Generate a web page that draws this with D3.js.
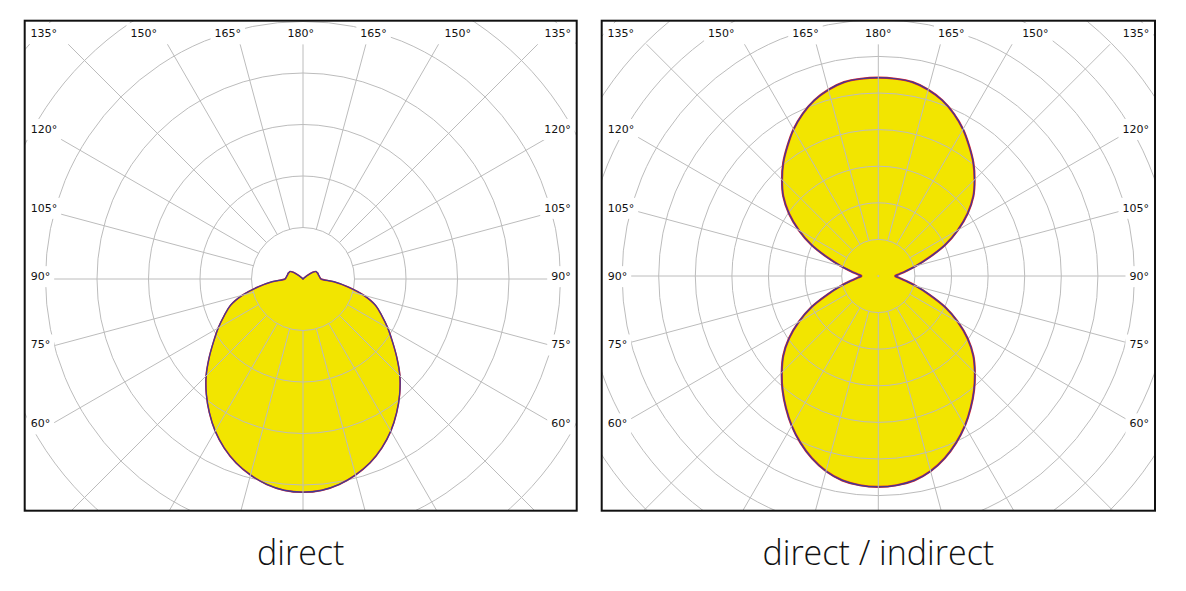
<!DOCTYPE html>
<html lang="en">
<head>
  <meta charset="UTF-8">
  <title>Polar light distribution: direct and direct/indirect</title>
  <script src="https://d3js.org/d3.v7.min.js"></script>
  <style>
    body {
      margin: 0;
      background-color: #ffffff;
    }

    .grid {
      fill: none;
      stroke: #bcbcbc;
      stroke-width: 1px;
    }

    .tick-label {
      font-family: "DejaVu Sans", Verdana, sans-serif;
      font-size: 11px;
      fill: #111;
    }

    .title {
      font-family: "Open Sans", "Noto Sans", sans-serif;
      font-weight: 300;
      font-size: 34px;
      fill: #111;
    }
  </style>
</head>
<body>

<div id="chart"></div>

<script>
  const width = 1186;
  const height = 591;

  // angles measured from nadir (0 = straight down, 180 = straight up), one half of the curve
  const gammaAngles = d3.range(0, 181, 5);

  // luminous intensity, cd/klm (ring step = 100)
  const directValues = [
    414, 412, 405, 394, 380, 362, 341, 317, 292, 266,
    238, 212, 190, 169, 150, 122, 89, 60, 35, 33,
    32, 31, 31, 30, 29, 23, 10, 2, 0, 0,
    0, 0, 0, 0, 0, 0, 0
  ];

  const directIndirectValues = [
    576, 574, 567, 552, 530, 503, 473, 440, 407, 373,
    339, 298, 251, 202, 148, 107, 76, 57, 46, 57,
    76, 107, 148, 202, 251, 298, 339, 372, 404, 433,
    463, 489, 511, 527, 538, 541, 542
  ];

  const topLabels = ["135°", "150°", "165°", "180°", "165°", "150°", "135°"];
  const topLabelAngles = [-45, -30, -15, 0, 15, 30, 45];     // from zenith
  const sideLabels = ["120°", "105°", "90°", "75°", "60°"];
  const sideLabelAngles = [30, 15, 0, -15, -30];              // elevation above horizontal

  const panels = [
    { title: "direct", values: directValues,
      box: { x: 24.7, y: 20.7, w: 552, h: 490 }, cx: 303, cy: 279, step: 51.5 },
    { title: "direct / indirect", values: directIndirectValues,
      box: { x: 601.7, y: 20.7, w: 553.3, h: 490 }, cx: 878.3, cy: 276, step: 36.6 }
  ];

  const svg = d3.select("#chart")
    .append("svg")
    .attr("width", width)
    .attr("height", height);

  panels.forEach((p, i) => {
    const b = p.box;
    const r = d3.scaleLinear().domain([0, 100]).range([0, p.step]);

    const defs = svg.append("defs");
    defs.append("clipPath").attr("id", "box" + i)
      .append("rect").attr("x", b.x).attr("y", b.y).attr("width", b.w).attr("height", b.h);
    defs.append("clipPath").attr("id", "inset" + i)
      .append("rect").attr("x", b.x + 26).attr("y", b.y + 23.6)
      .attr("width", b.w - 52).attr("height", b.h - 23.6);

    const g = svg.append("g").attr("clip-path", `url(#box${i})`);
    const polar = g.append("g").attr("transform", `translate(${p.cx},${p.cy})`);

    // closed curve: right half going up, left half coming back down
    const pts = [];
    gammaAngles.forEach((a, k) => pts.push([Math.PI - a * Math.PI / 180, r(p.values[k])]));
    for (let k = gammaAngles.length - 2; k > 0; k--) {
      pts.push([Math.PI + gammaAngles[k] * Math.PI / 180, r(p.values[k])]);
    }
    const curve = d3.lineRadial()
      .angle(d => d[0])
      .radius(d => d[1])
      .curve(d3.curveCatmullRomClosed.alpha(0.5));

    polar.append("path")
      .attr("d", curve(pts))
      .attr("fill", "#f2e500")
      .attr("stroke", "none");

    // rings
    const maxR = Math.hypot(Math.max(p.cx - b.x, b.x + b.w - p.cx), Math.max(p.cy - b.y, b.y + b.h - p.cy));
    const rings = d3.range(1, Math.ceil(maxR / p.step) + 1);
    polar.selectAll("circle.ring")
      .data(rings)
      .enter()
      .append("circle")
      .attr("class", "grid ring")
      .attr("r", d => r(d * 100));

    // spokes every 15 degrees, from the first ring outward
    const spokes = svg.append("g")
      .attr("clip-path", `url(#inset${i})`)
      .append("g")
      .attr("transform", `translate(${p.cx},${p.cy})`);
    spokes.selectAll("line")
      .data(d3.range(0, 360, 15))
      .enter()
      .append("line")
      .attr("class", "grid")
      .attr("x1", d => r(100) * Math.sin(d * Math.PI / 180))
      .attr("y1", d => -r(100) * Math.cos(d * Math.PI / 180))
      .attr("x2", d => 900 * Math.sin(d * Math.PI / 180))
      .attr("y2", d => -900 * Math.cos(d * Math.PI / 180));

    if (i === 1) {
      polar.append("circle").attr("r", 1).attr("fill", "#bcbcbc");
    }

    // outline: C0-C180 (red) under C90-C270 (blue)
    polar.append("path")
      .attr("d", curve(pts))
      .attr("fill", "none")
      .attr("stroke", "#e0262c")
      .attr("stroke-width", i === 1 ? 2.2 : 1.6);
    polar.append("path")
      .attr("d", curve(pts))
      .attr("fill", "none")
      .attr("stroke", "#3c3a98")
      .attr("stroke-width", 1.2);

    // angle labels with white backing
    const labels = svg.append("g");
    const bcx = b.x + b.w / 2;
    const nomCy = b.y + 255.5;
    const items = [];
    topLabels.forEach((t, k) => {
      const off = 272 * Math.tan(topLabelAngles[k] * Math.PI / 180);
      const lim = b.w / 2 - 19;
      items.push({ t, x: bcx + Math.max(-lim, Math.min(lim, off)), y: b.y + 12.5, anchor: "middle" });
    });
    sideLabels.forEach((t, k) => {
      const y = nomCy - 255 * Math.tan(sideLabelAngles[k] * Math.PI / 180);
      items.push({ t, x: b.x + 6, y, anchor: "start" });
      items.push({ t, x: b.x + b.w - 6, y, anchor: "end" });
    });

    items.forEach(d => {
      const lg = labels.append("g");
      const txt = lg.append("text")
        .attr("class", "tick-label")
        .attr("x", d.x)
        .attr("y", d.y)
        .attr("dy", "0.36em")
        .attr("text-anchor", d.anchor)
        .text(d.t);
      const bb = txt.node().getBBox();
      lg.insert("rect", "text")
        .attr("x", bb.x - 4)
        .attr("y", bb.y - 4)
        .attr("width", bb.width + 8)
        .attr("height", bb.height + 8)
        .attr("fill", "#fff");
    });

    // frame
    svg.append("rect")
      .attr("x", b.x).attr("y", b.y)
      .attr("width", b.w).attr("height", b.h)
      .attr("fill", "none")
      .attr("stroke", "#111")
      .attr("stroke-width", 2);

    svg.append("text")
      .attr("class", "title")
      .attr("x", bcx)
      .attr("y", 565)
      .attr("text-anchor", "middle")
      .text(p.title);
  });
</script>

</body>
</html>
